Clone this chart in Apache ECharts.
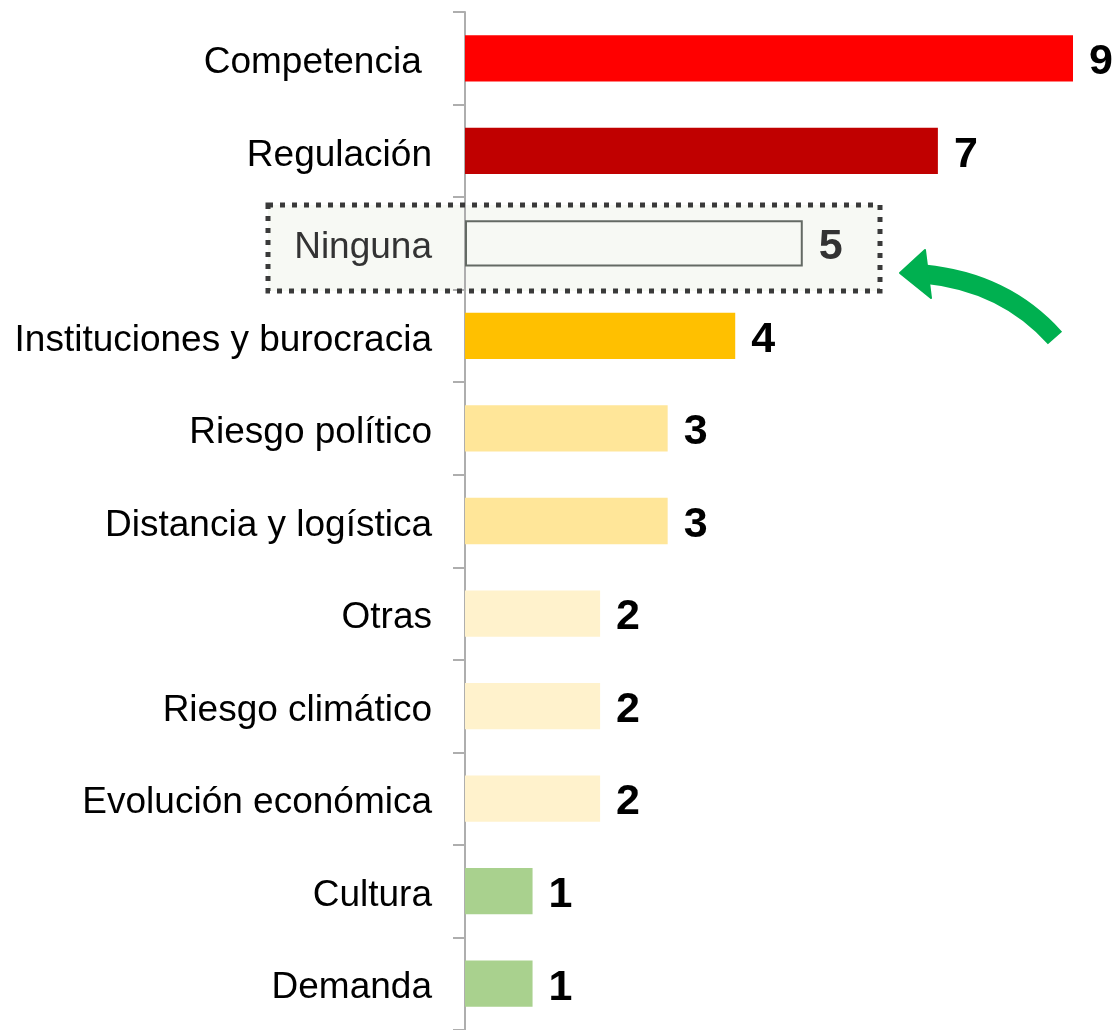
<!DOCTYPE html>
<html>
<head>
<meta charset="utf-8">
<script src="https://cdn.jsdelivr.net/npm/echarts@6/dist/echarts.min.js"></script>
<style>
  html, body { margin: 0; padding: 0; background: #fff; }
  #chart { width: 1119px; height: 1030px; }
</style>
</head>
<body>
<div id="chart"></div>
<script>
// categories top to bottom
const categories = [
  'Competencia ', 'Regulación', 'Ninguna', 'Instituciones y burocracia',
  'Riesgo político', 'Distancia y logística', 'Otras', 'Riesgo climático',
  'Evolución económica', 'Cultura', 'Demanda'
]
const values = [9, 7, 5, 4, 3, 3, 2, 2, 2, 1, 1]
const barColors = [
  '#FF0000', '#C00000', '#F7F9F4', '#FFC000', '#FFE699', '#FFE699',
  '#FFF2CC', '#FFF2CC', '#FFF2CC', '#A9D18E', '#A9D18E'
]
const highlight = 'Ninguna'

const chart = echarts.init(document.getElementById('chart'))

const font = '"Liberation Sans", Arial, sans-serif'

const seriesData = values.map((v, i) => {
  const item = { value: v, itemStyle: { color: barColors[i] } }
  if (categories[i] === highlight) {
    item.itemStyle.borderColor = '#646A64'
    item.itemStyle.borderWidth = 2
    item.label = { color: '#333' }
  }
  return item
})

const labelStyle = { fontSize: 37, fontFamily: font, padding: [9, 0, 0, 0] }

const option = {
  animation: false,
  grid: { left: 465, right: 46, top: 12, height: 1022 },
  xAxis: {
    type: 'value',
    min: 0,
    max: 9,
    show: false
  },
  yAxis: {
    type: 'category',
    inverse: true,
    data: categories,
    axisLine: { show: true, lineStyle: { color: '#AEAEAE', width: 2 } },
    axisTick: { show: true, length: 12, lineStyle: { color: '#AEAEAE', width: 2 } },
    axisLabel: {
      margin: 33,
      fontSize: 37,
      fontFamily: font,
      formatter: (val) => (val === highlight ? '{hl|' + val + '}' : '{n|' + val + '}'),
      rich: {
        n: Object.assign({ color: '#000000' }, labelStyle),
        hl: Object.assign({ color: '#333333' }, labelStyle)
      }
    }
  },
  series: [
    {
      type: 'bar',
      data: seriesData,
      barCategoryGap: '50%',
      z: 5,
      label: {
        show: true,
        position: 'right',
        distance: 16,
        offset: [0, 4],
        fontSize: 43,
        fontWeight: 'bold',
        fontFamily: font,
        color: '#000'
      }
    }
  ],
  graphic: [
    // highlight box behind "Ninguna"
    {
      type: 'rect',
      z: -10,
      shape: { x: 268, y: 205, width: 612, height: 86 },
      style: { fill: '#F7F9F4', stroke: null }
    },
    {
      type: 'rect',
      z: 20,
      shape: { x: 268, y: 205, width: 612, height: 86 },
      style: { fill: null, stroke: '#3A3A3A', lineWidth: 5, lineDash: [5, 7] }
    },
    // green curved arrow
    {
      type: 'bezierCurve',
      z: 20,
      shape: { x1: 1055, y1: 338, x2: 924, y2: 274, cpx1: 1005, cpy1: 282 },
      style: { stroke: '#00B050', lineWidth: 19, fill: null }
    },
    {
      type: 'polygon',
      z: 20,
      shape: { points: [[900, 273], [925, 250], [931, 298]] },
      style: { fill: '#00B050', stroke: '#00B050', lineWidth: 2, lineJoin: 'round' }
    }
  ]
}

chart.setOption(option)
</script>
</body>
</html>
